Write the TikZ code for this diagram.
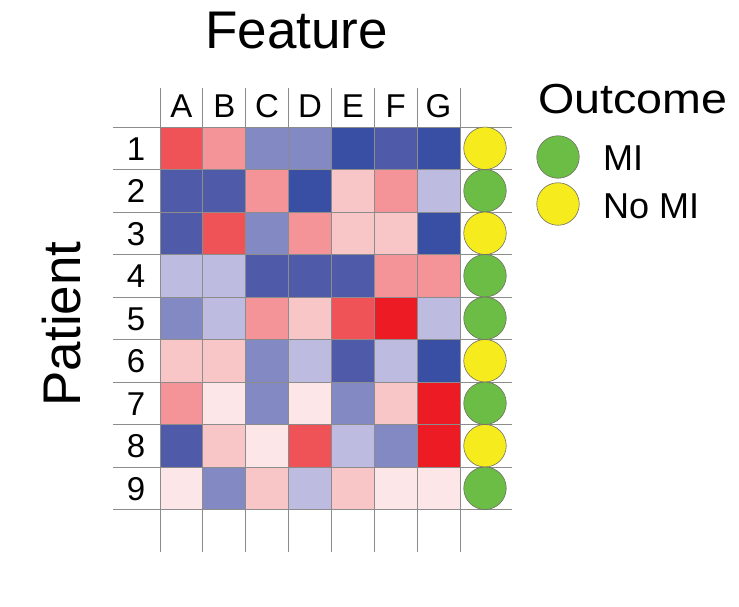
\documentclass[tikz,border=0pt]{standalone}
\usepackage{fontspec}
\setmainfont{Liberation Sans}
\definecolor{rA}{RGB}{237,28,36}
\definecolor{rB}{RGB}{239,82,87}
\definecolor{rC}{RGB}{244,148,152}
\definecolor{rD}{RGB}{249,198,200}
\definecolor{rE}{RGB}{252,230,232}
\definecolor{bA}{RGB}{57,79,163}
\definecolor{bB}{RGB}{79,90,168}
\definecolor{bC}{RGB}{131,137,194}
\definecolor{bD}{RGB}{189,187,223}
\definecolor{grn}{RGB}{108,189,69}
\definecolor{yel}{RGB}{246,236,29}
\definecolor{gridgray}{RGB}{140,140,140}
\definecolor{circ}{RGB}{110,110,100}
\begin{document}
\begin{tikzpicture}[x=1pt,y=-1pt,
  gridline/.style={draw=gridgray,line width=0.9pt},
  dot/.style={circle,draw=circ,line width=0.6pt,minimum size=42.5pt,inner sep=0pt},
  lab/.style={font=\fontsize{33}{36}\selectfont,anchor=base,inner sep=0pt},
  title/.style={font=\fontsize{53}{60}\selectfont,anchor=base,inner sep=0pt},
  legtext/.style={font=\fontsize{36}{40}\selectfont,anchor=base west,inner sep=0pt}]
\useasboundingbox (0,0) rectangle (739,606);
\fill[white] (0,0) rectangle (739,606);
\def\cw{42.857}
\def\rh{42.5}
% heatmap cells
\foreach \row [count=\r from 0] in {
  {rB,rC,bC,bC,bA,bB,bA},
  {bB,bB,rC,bA,rD,rC,bD},
  {bB,rB,bC,rC,rD,rD,bA},
  {bD,bD,bB,bB,bB,rC,rC},
  {bC,bD,rC,rD,rB,rA,bD},
  {rD,rD,bC,bD,bB,bD,bA},
  {rC,rE,bC,rE,bC,rD,rA},
  {bB,rD,rE,rB,bD,bC,rA},
  {rE,bC,rD,bD,rD,rE,rE}} {
  \foreach \c [count=\k from 0] in \row {
    \fill[\c] ({160+\k*\cw},{127+\r*\rh}) rectangle ++(\cw,\rh);
  }
}
% grid lines
\foreach \k in {0,...,7}
  \draw[gridline] ({160+\k*\cw},88) -- ({160+\k*\cw},552);
\foreach \r in {0,...,9}
  \draw[gridline] (113,{127+\r*\rh}) -- (512,{127+\r*\rh});
% column labels
\foreach \t [count=\k from 0] in {A,B,C,D,E,F,G}
  \node[lab] (col\t) at ({160+(\k+0.5)*\cw},117) {\t};
% row labels
\foreach \k in {1,...,9}
  \node[lab] (row\k) at (136,{127+(\k-1)*\rh+33}) {\k};
% outcome circles
\foreach \o [count=\r from 0] in {yel,grn,yel,grn,grn,yel,grn,yel,grn}
  \node[dot,fill=\o] (out\r) at (485,{127+(\r+0.5)*\rh}) {};
% titles
\node[title] (feature) at (296.5,48) {Feature};
\node[title,rotate=90] (patient) at (80,324) {Patient};
\node[font=\fontsize{42}{48}\selectfont,anchor=base west,inner sep=0pt,xscale=1.11,transform shape] (outcome) at (538,113) {Outcome};
% legend
\node[dot,fill=grn] (legmi) at (558,157) {};
\node[dot,fill=yel] (legno) at (558,204) {};
\node[legtext] (mitext) at (603,170) {MI};
\node[legtext] (notext) at (603,218) {No MI};
\end{tikzpicture}
\end{document}
